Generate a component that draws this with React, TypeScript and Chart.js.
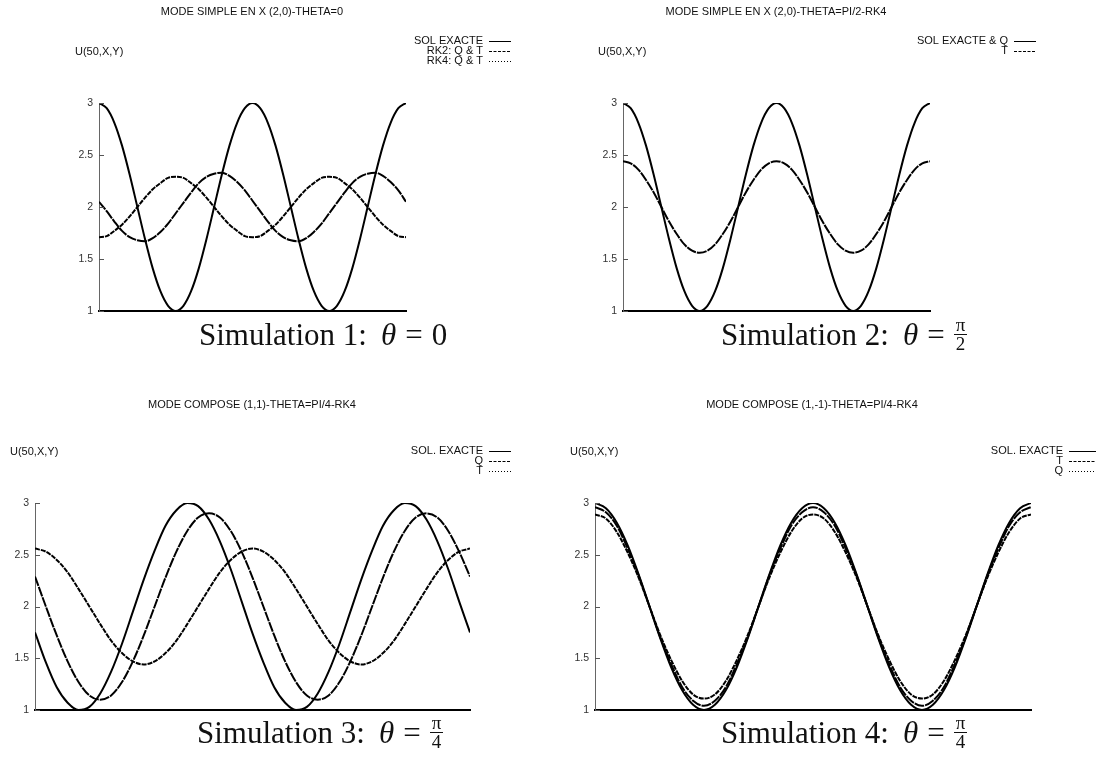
import React, { useEffect, useRef } from 'react';
import { Chart, registerables } from 'chart.js';

Chart.register(...registerables);

// ---------------- data ----------------
const T_INDEX = [0, 1, 2, 3, 4, 5, 6, 7, 8, 9, 10, 11, 12, 13, 14, 15, 16, 17, 18, 19, 20,
  21, 22, 23, 24, 25, 26, 27, 28, 29, 30, 31, 32, 33, 34, 35, 36, 37, 38, 39, 40];
const Y_TICKS = [1, 1.5, 2, 2.5, 3];

// Simulation 1 : theta = 0
const P1_EXACT = [3.00, 2.95, 2.81, 2.59, 2.31, 2.00, 1.69, 1.41, 1.19, 1.05, 1.00, 1.05, 1.19, 1.41, 1.69, 2.00, 2.31, 2.59, 2.81, 2.95,
  3.00, 2.95, 2.81, 2.59, 2.31, 2.00, 1.69, 1.41, 1.19, 1.05, 1.00, 1.05, 1.19, 1.41, 1.69, 2.00, 2.31, 2.59, 2.81, 2.95, 3.00];
const P1_RK2 = [2.05, 1.96, 1.86, 1.77, 1.71, 1.68, 1.67, 1.70, 1.76, 1.84, 1.94, 2.04, 2.14, 2.23, 2.29, 2.32, 2.33, 2.30, 2.24, 2.16,
  2.06, 1.96, 1.86, 1.77, 1.71, 1.68, 1.67, 1.70, 1.76, 1.84, 1.94, 2.04, 2.14, 2.23, 2.29, 2.32, 2.33, 2.30, 2.24, 2.16, 2.05];
const P1_RK4 = [1.71, 1.72, 1.77, 1.83, 1.91, 2.00, 2.09, 2.17, 2.23, 2.28, 2.29, 2.28, 2.23, 2.17, 2.09, 2.00, 1.91, 1.83, 1.77, 1.72,
  1.71, 1.72, 1.77, 1.83, 1.91, 2.00, 2.09, 2.17, 2.23, 2.28, 2.29, 2.28, 2.23, 2.17, 2.09, 2.00, 1.91, 1.83, 1.77, 1.72, 1.71];

// Simulation 2 : theta = pi/2
const P2_EXACT_Q = [3.00, 2.95, 2.81, 2.59, 2.31, 2.00, 1.69, 1.41, 1.19, 1.05, 1.00, 1.05, 1.19, 1.41, 1.69, 2.00, 2.31, 2.59, 2.81, 2.95,
  3.00, 2.95, 2.81, 2.59, 2.31, 2.00, 1.69, 1.41, 1.19, 1.05, 1.00, 1.05, 1.19, 1.41, 1.69, 2.00, 2.31, 2.59, 2.81, 2.95, 3.00];
const P2_T = [2.44, 2.42, 2.36, 2.26, 2.14, 2.00, 1.86, 1.74, 1.64, 1.58, 1.56, 1.58, 1.64, 1.74, 1.86, 2.00, 2.14, 2.26, 2.36, 2.42,
  2.44, 2.42, 2.36, 2.26, 2.14, 2.00, 1.86, 1.74, 1.64, 1.58, 1.56, 1.58, 1.64, 1.74, 1.86, 2.00, 2.14, 2.26, 2.36, 2.42, 2.44];

// Simulation 3 : mode (1,1), theta = pi/4
const P3_EXACT = [1.75, 1.46, 1.22, 1.07, 1.00, 1.03, 1.16, 1.37, 1.64, 1.95, 2.26, 2.54, 2.78, 2.93, 3.00, 2.97, 2.84, 2.63, 2.36, 2.05,
  1.74, 1.46, 1.22, 1.07, 1.00, 1.03, 1.16, 1.37, 1.64, 1.95, 2.26, 2.54, 2.78, 2.93, 3.00, 2.97, 2.84, 2.63, 2.36, 2.05, 1.75];
const P3_Q = [2.29, 2.00, 1.72, 1.47, 1.27, 1.14, 1.10, 1.14, 1.27, 1.47, 1.72, 2.00, 2.28, 2.53, 2.73, 2.86, 2.90, 2.86, 2.73, 2.53,
  2.28, 2.00, 1.72, 1.47, 1.27, 1.14, 1.10, 1.14, 1.27, 1.47, 1.72, 2.00, 2.28, 2.53, 2.73, 2.86, 2.90, 2.86, 2.73, 2.53, 2.29];
const P3_T = [2.56, 2.53, 2.45, 2.33, 2.17, 2.00, 1.83, 1.67, 1.55, 1.47, 1.44, 1.47, 1.55, 1.67, 1.83, 2.00, 2.17, 2.33, 2.45, 2.53,
  2.56, 2.53, 2.45, 2.33, 2.17, 2.00, 1.83, 1.67, 1.55, 1.47, 1.44, 1.47, 1.55, 1.67, 1.83, 2.00, 2.17, 2.33, 2.45, 2.53, 2.56];

// Simulation 4 : mode (1,-1), theta = pi/4
const P4_EXACT = [3.00, 2.95, 2.81, 2.59, 2.31, 2.00, 1.69, 1.41, 1.19, 1.05, 1.00, 1.05, 1.19, 1.41, 1.69, 2.00, 2.31, 2.59, 2.81, 2.95,
  3.00, 2.95, 2.81, 2.59, 2.31, 2.00, 1.69, 1.41, 1.19, 1.05, 1.00, 1.05, 1.19, 1.41, 1.69, 2.00, 2.31, 2.59, 2.81, 2.95, 3.00];
const P4_T = [2.96, 2.91, 2.78, 2.56, 2.30, 2.00, 1.70, 1.44, 1.22, 1.09, 1.04, 1.09, 1.22, 1.44, 1.70, 2.00, 2.30, 2.56, 2.78, 2.91,
  2.96, 2.91, 2.78, 2.56, 2.30, 2.00, 1.70, 1.44, 1.22, 1.09, 1.04, 1.09, 1.22, 1.44, 1.70, 2.00, 2.30, 2.56, 2.78, 2.91, 2.96];
const P4_Q = [2.89, 2.85, 2.72, 2.52, 2.28, 2.00, 1.72, 1.48, 1.28, 1.15, 1.11, 1.15, 1.28, 1.48, 1.72, 2.00, 2.28, 2.52, 2.72, 2.85,
  2.89, 2.85, 2.72, 2.52, 2.28, 2.00, 1.72, 1.48, 1.28, 1.15, 1.11, 1.15, 1.28, 1.48, 1.72, 2.00, 2.28, 2.52, 2.72, 2.85, 2.89];

const TITLES = [
  'MODE SIMPLE EN X (2,0)-THETA=0',
  'MODE SIMPLE EN X (2,0)-THETA=PI/2-RK4',
  'MODE COMPOSE (1,1)-THETA=PI/4-RK4',
  'MODE COMPOSE (1,-1)-THETA=PI/4-RK4',
];
const Y_LABEL = 'U(50,X,Y)';

// ---------------- styles ----------------
const SOLID: number[] = [];
const DASHED_CURVE = [10, 1];
const DOTTED_CURVE = [5, 1];
const DASHED_KEY = [3, 1.5];
const DOTTED_KEY = [1, 2];
const SANS = '"Liberation Sans", Arial, Helvetica, sans-serif';

type Series = { label: string; values: number[]; curveDash: number[]; keyDash: number[] };
type PanelDef = {
  box: { x: number; y: number; w: number; h: number };
  plot: { left: number; right: number; top: number; bottom: number };
  title: string;
  titlePos: [number, number];
  ylabelPos: [number, number];
  legendRight: number;
  legendRows: number[];
  keyLen: number;
  series: Series[];
};

const PANELS: PanelDef[] = [
  {
    box: { x: 0, y: 0, w: 548, h: 378 },
    plot: { left: 99, right: 406, top: 103, bottom: 311 },
    title: TITLES[0], titlePos: [252, 12], ylabelPos: [75, 52],
    legendRight: 483, legendRows: [41, 51, 61], keyLen: 22,
    series: [
      { label: 'SOL EXACTE', values: P1_EXACT, curveDash: SOLID, keyDash: SOLID },
      { label: 'RK2: Q & T', values: P1_RK2, curveDash: DASHED_CURVE, keyDash: DASHED_KEY },
      { label: 'RK4: Q & T', values: P1_RK4, curveDash: DOTTED_CURVE, keyDash: DOTTED_KEY },
    ],
  },
  {
    box: { x: 548, y: 0, w: 548, h: 378 },
    plot: { left: 623, right: 930, top: 103, bottom: 311 },
    title: TITLES[1], titlePos: [776, 12], ylabelPos: [598, 52],
    legendRight: 1008, legendRows: [41, 51], keyLen: 22,
    series: [
      { label: 'SOL EXACTE & Q', values: P2_EXACT_Q, curveDash: SOLID, keyDash: SOLID },
      { label: 'T', values: P2_T, curveDash: DASHED_CURVE, keyDash: DASHED_KEY },
    ],
  },
  {
    box: { x: 0, y: 378, w: 548, h: 379 },
    plot: { left: 35, right: 470, top: 503, bottom: 710 },
    title: TITLES[2], titlePos: [252, 405], ylabelPos: [10, 452],
    legendRight: 483, legendRows: [451, 461, 471], keyLen: 22,
    series: [
      { label: 'SOL. EXACTE', values: P3_EXACT, curveDash: SOLID, keyDash: SOLID },
      { label: 'Q', values: P3_Q, curveDash: DASHED_CURVE, keyDash: DASHED_KEY },
      { label: 'T', values: P3_T, curveDash: DOTTED_CURVE, keyDash: DOTTED_KEY },
    ],
  },
  {
    box: { x: 548, y: 378, w: 548, h: 379 },
    plot: { left: 595, right: 1031, top: 503, bottom: 710 },
    title: TITLES[3], titlePos: [812, 405], ylabelPos: [570, 452],
    legendRight: 1063, legendRows: [451, 461, 471], keyLen: 40,
    series: [
      { label: 'SOL. EXACTE', values: P4_EXACT, curveDash: SOLID, keyDash: SOLID },
      { label: 'T', values: P4_T, curveDash: DASHED_CURVE, keyDash: DASHED_KEY },
      { label: 'Q', values: P4_Q, curveDash: DOTTED_CURVE, keyDash: DOTTED_KEY },
    ],
  },
];

const CAPTIONS = [
  { n: '1', frac: null as null | string, x: 199, y: 319 },
  { n: '2', frac: '2', x: 721, y: 319 },
  { n: '3', frac: '4', x: 197, y: 717 },
  { n: '4', frac: '4', x: 721, y: 717 },
];

const Y_AXIS_W = 30;

function Panel({ def }: { def: PanelDef }) {
  const ref = useRef<HTMLCanvasElement | null>(null);
  useEffect(() => {
    const canvas = ref.current;
    if (!canvas) return;
    const { box, plot } = def;

    const overlay = {
      id: 'gnuplotText',
      afterDraw(chart: any) {
        const ctx = chart.ctx as CanvasRenderingContext2D;
        const ca = chart.chartArea;
        const ys = chart.scales.y;
        ctx.save();
        // inward ticks on y axis
        ctx.strokeStyle = '#555';
        ctx.lineWidth = 1;
        ctx.setLineDash([]);
        Y_TICKS.forEach((v) => {
          const py = Math.round(ys.getPixelForValue(v)) + 0.5;
          ctx.beginPath();
          ctx.moveTo(ca.left, py);
          ctx.lineTo(ca.left + 5, py);
          ctx.stroke();
        });
        // title
        ctx.fillStyle = '#111';
        ctx.font = `11px ${SANS}`;
        ctx.textBaseline = 'middle';
        ctx.textAlign = 'center';
        ctx.fillText(def.title, def.titlePos[0] - box.x, def.titlePos[1] - box.y);
        // y label
        ctx.textAlign = 'left';
        ctx.fillText(Y_LABEL, def.ylabelPos[0] - box.x, def.ylabelPos[1] - box.y);
        // key
        def.series.forEach((s, i) => {
          const ry = def.legendRows[i] - box.y;
          const rx = def.legendRight - box.x;
          ctx.textAlign = 'right';
          ctx.fillText(s.label, rx, ry);
          ctx.beginPath();
          ctx.setLineDash(s.keyDash);
          ctx.strokeStyle = '#000';
          ctx.lineWidth = 1;
          ctx.moveTo(rx + 6, Math.round(ry) + 0.5);
          ctx.lineTo(rx + 6 + def.keyLen, Math.round(ry) + 0.5);
          ctx.stroke();
        });
        ctx.restore();
      },
    };

    const chart = new Chart(canvas, {
      type: 'line',
      data: {
        datasets: def.series.map((s) => ({
          label: s.label,
          data: T_INDEX.map((t, i) => ({ x: t, y: s.values[i] })),
          borderColor: '#000',
          backgroundColor: '#000',
          borderWidth: 2,
          borderDash: s.curveDash,
          pointRadius: 0,
          fill: false,
          cubicInterpolationMode: 'monotone',
        })),
      },
      options: {
        animation: false,
        responsive: false,
        maintainAspectRatio: false,
        events: [],
        layout: {
          padding: {
            left: plot.left - box.x - Y_AXIS_W,
            right: box.x + box.w - plot.right,
            top: plot.top - box.y,
            bottom: box.y + box.h - plot.bottom,
          },
        },
        plugins: {
          legend: { display: false },
          title: { display: false },
          tooltip: { enabled: false },
        },
        scales: {
          x: {
            type: 'linear',
            min: T_INDEX[0],
            max: T_INDEX[T_INDEX.length - 1],
            afterFit: (s: any) => { s.height = 0; },
            ticks: { display: false },
            grid: { display: false, drawTicks: false },
            border: { display: true, color: '#000', width: 2 },
          },
          y: {
            type: 'linear',
            min: 1,
            max: 3,
            afterFit: (s: any) => { s.width = Y_AXIS_W; },
            afterBuildTicks: (s: any) => { s.ticks = Y_TICKS.map((v) => ({ value: v })); },
            ticks: {
              padding: 6,
              color: '#333',
              font: { family: SANS, size: 10.5 },
              callback: (v: any) => String(v),
            },
            grid: { display: false, drawTicks: false },
            border: { display: true, color: '#666', width: 1 },
          },
        },
      } as any,
      plugins: [overlay],
    });
    return () => chart.destroy();
  }, [def]);

  return (
    <canvas
      ref={ref}
      width={def.box.w}
      height={def.box.h}
      style={{ position: 'absolute', left: def.box.x, top: def.box.y, width: def.box.w, height: def.box.h }}
    />
  );
}

function Caption({ c }: { c: typeof CAPTIONS[number] }) {
  return (
    <div
      style={{
        position: 'absolute', left: c.x, top: c.y, fontFamily: '"Liberation Serif", "Times New Roman", serif',
        fontSize: 31, lineHeight: '31px', color: '#111', whiteSpace: 'nowrap',
      }}
    >
      <span>Simulation {c.n}:</span>
      <span style={{ fontStyle: 'italic', marginLeft: 14 }}>θ</span>
      <span style={{ margin: '0 9px' }}>=</span>
      {c.frac === null ? (
        <span>0</span>
      ) : (
        <span
          style={{
            display: 'inline-flex', flexDirection: 'column', alignItems: 'center', verticalAlign: 'middle',
            fontSize: 19, lineHeight: '18px', position: 'relative', top: -3,
          }}
        >
          <span style={{ padding: '0 2px' }}>π</span>
          <span style={{ borderTop: '1.5px solid #111', alignSelf: 'stretch', textAlign: 'center' }}>{c.frac}</span>
        </span>
      )}
    </div>
  );
}

export default function App() {
  return (
    <div style={{ position: 'absolute', left: 0, top: 0, width: 1096, height: 757, background: '#fff', overflow: 'hidden' }}>
      {PANELS.map((p, i) => (
        <Panel key={i} def={p} />
      ))}
      {CAPTIONS.map((c, i) => (
        <Caption key={i} c={c} />
      ))}
    </div>
  );
}
